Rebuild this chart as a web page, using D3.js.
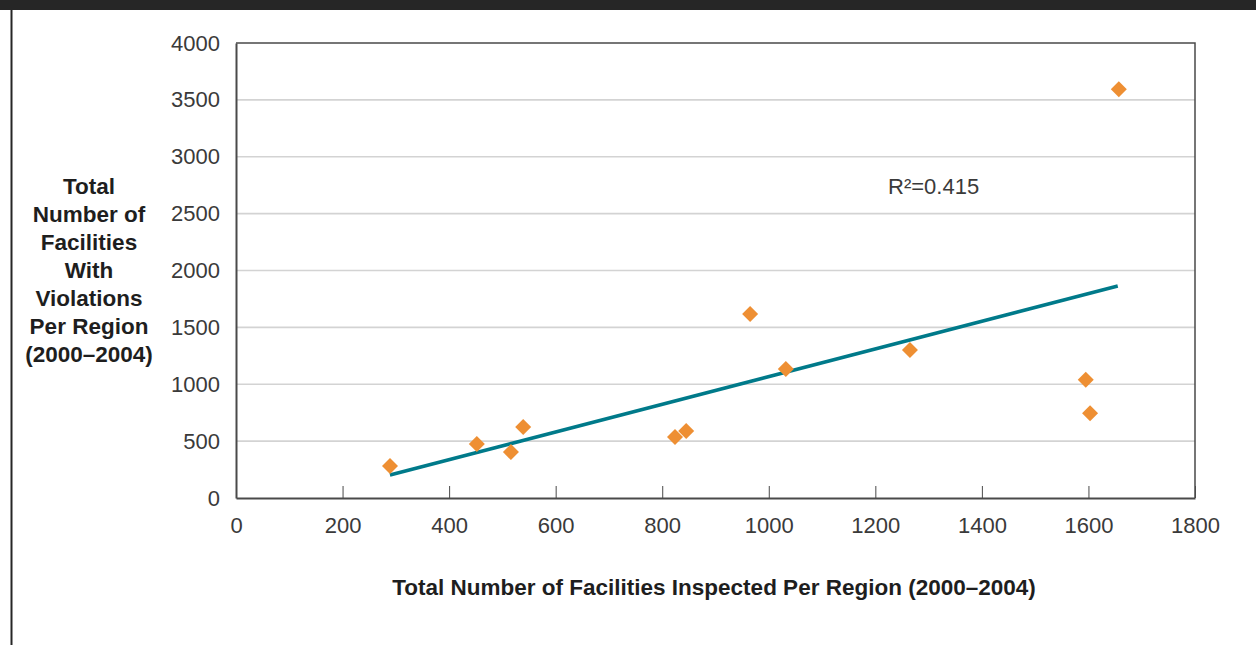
<!DOCTYPE html>
<html lang="en">
	<head>
		<meta charset="utf-8">
		<title>Facilities inspected vs violations</title>
		<script type="text/javascript" src="https://cdn.jsdelivr.net/npm/d3@7"></script>
		<style type="text/css">
			body { margin: 0; background: #fff; }
			svg { display: block; }
			.axis path, .axis line { fill: none; stroke: #4a4a4a; }
			.axis text { font-family: "Liberation Sans", Arial, sans-serif; font-size: 22px; fill: #3a3a3a; }
			.grid line { stroke: #d3d3d3; stroke-width: 1.6; }
			.title { font-family: "Liberation Sans", Arial, sans-serif; font-weight: bold; fill: #1e1e1e; }
		</style>
	</head>
	<body>
		<script type="text/javascript">

			var w = 1256;
			var h = 645;

			// scatter points
			var inspected = [289, 452, 516, 539, 824, 845, 965, 1032, 1265, 1595, 1603, 1657];
			var violations = [281, 475, 404, 624, 536, 589, 1618, 1134, 1301, 1040, 745, 3593];

			// trend line endpoints
			var trendX = [289, 1655];
			var trendY = [202, 1864];

			var xTicks = [0, 200, 400, 600, 800, 1000, 1200, 1400, 1600, 1800];
			var yTicks = [0, 500, 1000, 1500, 2000, 2500, 3000, 3500, 4000];
			var yTitle = ["Total", "Number of", "Facilities", "With", "Violations", "Per Region", "(2000\u20132004)"];
			var xTitle = "Total Number of Facilities Inspected Per Region (2000\u20132004)";
			var rLabel = "R\u00B2=0.415";

			// plot box edges (pixels)
			var plotL = 236, plotR = 1195, plotT = 43, plotB = 498;

			var xScale = d3.scaleLinear().domain([0, 1800]).range([plotL, plotR]);
			var yScale = d3.scaleLinear().domain([0, 4000]).range([plotB, plotT]);

			var svg = d3.select("body").append("svg")
				.attr("width", w)
				.attr("height", h);

			// dark band on top and frame line on the left
			svg.append("rect").attr("x", 0).attr("y", 0).attr("width", w).attr("height", 10).attr("fill", "#262626");
			svg.append("line").attr("x1", 11.5).attr("x2", 11.5).attr("y1", 10).attr("y2", h)
				.attr("stroke", "#262626").attr("stroke-width", 2);

			// gridlines
			svg.append("g").attr("class", "grid")
				.selectAll("line")
				.data(yTicks.filter(function(d) { return d > 0 && d < 4000; }))
				.enter().append("line")
				.attr("x1", plotL).attr("x2", plotR)
				.attr("y1", function(d) { return yScale(d); })
				.attr("y2", function(d) { return yScale(d); });

			// plot frame top and right
			svg.append("path")
				.attr("d", "M" + plotL + "," + plotT + "H" + plotR + "V" + plotB)
				.attr("fill", "none").attr("stroke", "#4a4a4a").attr("stroke-width", 1.5);

			// axes
			var xAxis = d3.axisBottom(xScale).tickValues(xTicks).tickFormat(d3.format("d"))
				.tickSize(-12).tickPadding(19).tickSizeOuter(0);
			var yAxis = d3.axisLeft(yScale).tickValues(yTicks).tickFormat(d3.format("d"))
				.tickSize(0).tickPadding(16);

			svg.append("g").attr("class", "x axis")
				.attr("transform", "translate(0," + plotB + ")")
				.call(xAxis)
				.call(function(g) { g.select(".domain").attr("stroke-width", 2); });

			svg.append("g").attr("class", "y axis")
				.attr("transform", "translate(" + plotL + ",0)")
				.call(yAxis)
				.call(function(g) { g.select(".domain").attr("stroke-width", 2); });

			// trend line
			var line = d3.line()
				.x(function(d) { return xScale(d[0]); })
				.y(function(d) { return yScale(d[1]); });
			svg.append("path")
				.datum(d3.zip(trendX, trendY))
				.attr("d", line)
				.attr("fill", "none")
				.attr("stroke", "#007a8a")
				.attr("stroke-width", 3.5);

			// diamonds
			svg.append("g").selectAll("path")
				.data(d3.zip(inspected, violations))
				.enter().append("path")
				.attr("d", "M0,-8L8,0L0,8L-8,0Z")
				.attr("transform", function(d) { return "translate(" + xScale(d[0]) + "," + yScale(d[1]) + ")"; })
				.attr("fill", "#ee8f33");

			// R squared
			svg.append("text")
				.attr("x", 888).attr("y", 194)
				.attr("font-family", "Liberation Sans, Arial, sans-serif")
				.attr("font-size", 22).attr("fill", "#3a3a3a")
				.text(rLabel);

			// y title
			svg.append("text").attr("class", "title")
				.attr("text-anchor", "middle")
				.attr("font-size", 22.5)
				.selectAll("tspan")
				.data(yTitle)
				.enter().append("tspan")
				.attr("x", 89)
				.attr("y", function(d, i) { return 194 + i * 28; })
				.text(function(d) { return d; });

			// x title
			svg.append("text").attr("class", "title")
				.attr("x", 714).attr("y", 595)
				.attr("text-anchor", "middle")
				.attr("font-size", 22.5)
				.text(xTitle);

		</script>
	</body>
</html>
